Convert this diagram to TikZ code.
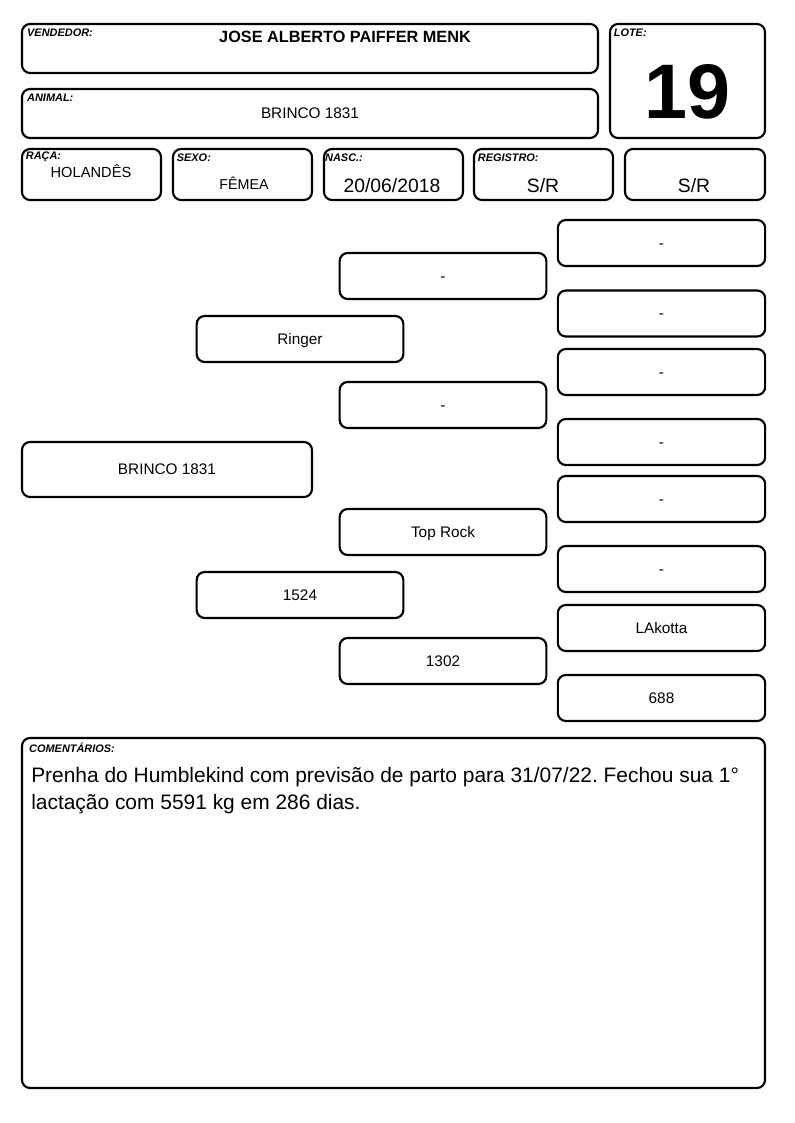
\documentclass[tikz,border=0pt]{standalone}
\usepackage{fontspec}
\setmainfont{Liberation Sans}
\usetikzlibrary{positioning}
\frenchspacing

\begin{document}
\begin{tikzpicture}[x=0.75pt, y=-0.75pt,
  box/.style={draw, line width=1.6pt, rounded corners=6pt, inner sep=0pt},
  pbox/.style={box, minimum width=155pt, minimum height=34.5pt, font=\fontsize{11.5}{13}\selectfont, text height=8.2pt, text depth=0pt},
  tag/.style={font=\fontsize{8.2}{9}\selectfont\bfseries\itshape, inner sep=0pt},
  val/.style={anchor=base, inner sep=0pt, font=\fontsize{11.5}{13}\selectfont}]
  \useasboundingbox (0,0) rectangle (794,1123);
  % cabecalho
  \node[box, minimum width=432pt, minimum height=36.75pt] (vend) at (310,48.5) {};
  \node[box, minimum width=432pt, minimum height=36.75pt] (anim) at (310,113.5) {};
  \node[box, minimum width=116.25pt, minimum height=85.5pt] (lote) at (687.5,81) {};
  \foreach \n/\x in {raca/91.5, sexo/242.5, nasc/393.5, reg/543.5}
    \node[box, minimum width=104.25pt, minimum height=38.25pt] (\n) at (\x,174.5) {};
  \node[box, minimum width=105pt, minimum height=38.25pt] (regb) at (695,174.5) {};
  \node[tag, below right=4pt and 4.5pt of vend.north west] (vendtag) {VENDEDOR:};
  \node[tag, below right=4pt and 4.5pt of anim.north west] (animtag) {ANIMAL:};
  \node[tag, below right=4pt and 3.5pt of lote.north west] (lotetag) {LOTE:};
  \node[tag, below right=3pt and 3.5pt of raca.north west] (racatag) {RAÇA:};
  \node[tag, below right=4.5pt and 3.5pt of sexo.north west] (sexotag) {SEXO:};
  \node[tag, below right=4.5pt and 1.5pt of nasc.north west] (nasctag) {NASC.:};
  \node[tag, below right=4.5pt and 3.5pt of reg.north west] (regtag) {REGISTRO:};
  \node[val, font=\fontsize{12.2}{14}\selectfont\bfseries] (vendval) at (345,43) {JOSE ALBERTO PAIFFER MENK};
  \node[val] (animval) at (310,119) {BRINCO 1831};
  \node[val, font=\fontsize{58}{64}\selectfont\bfseries] (loteval) at (687.5,119) {19};
  \node[val, font=\fontsize{11}{13}\selectfont] (racaval) at (91,178) {HOLANDÊS};
  \node[val, font=\fontsize{10.7}{13}\selectfont] (sexoval) at (244,190) {FÊMEA};
  \node[val, font=\fontsize{14.5}{17}\selectfont] (nascval) at (392,193) {20/06/2018};
  \node[val, font=\fontsize{14.5}{17}\selectfont] (regval) at (543,193) {S/R};
  \node[val, font=\fontsize{14.5}{17}\selectfont] (regbval) at (694,193) {S/R};
  % genealogia
  \node[pbox, minimum width=217.5pt, minimum height=41.25pt] (an) at (167,469.5) {BRINCO 1831};
  \node[pbox] (pai) at (300,339) {Ringer};
  \node[pbox] (mae) at (300,595) {1524};
  \node[pbox] (pp) at (443,276) {-};
  \node[pbox] (mp) at (443,405) {-};
  \node[pbox] (pm) at (443,532) {Top Rock};
  \node[pbox] (mm) at (443,661) {1302};
  \foreach \y/\t [count=\i] in {243/-, 313.5/-, 372/-, 442/-, 499/-, 569/-, 628/LAkotta, 698/688}
    \node[pbox, minimum width=155.5pt] (bis\i) at (661.5,\y) {\t};
  % comentarios
  \node[box, minimum width=557.25pt, minimum height=262.5pt] (coment) at (393.5,913) {};
  \node[tag, below right=4.5pt and 6pt of coment.north west] (comtag) {COMENTÁRIOS:};
  \node[anchor=north west, inner sep=0pt, align=left, font=\fontsize{15.7}{20.25}\selectfont] (comtxt) at (31,767)
    {Prenha do Humblekind com previsão de parto para 31/07/22. Fechou sua 1°\\lactação com 5591 kg em 286 dias.};
\end{tikzpicture}
\end{document}
